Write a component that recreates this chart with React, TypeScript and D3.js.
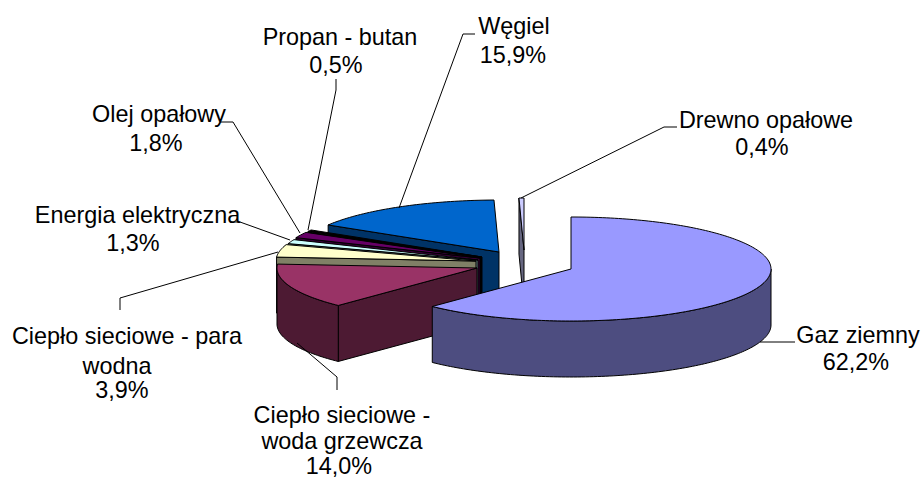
import React from "react";
import * as d3 from "d3";

const categories = ["Gaz ziemny", "Ciepło sieciowe - woda grzewcza", "Ciepło sieciowe - para wodna", "Energia elektryczna", "Olej opałowy", "Propan - butan", "Węgiel", "Drewno opałowe"];
const values = [62.2, 14.0, 3.9, 1.3, 1.8, 0.5, 15.9, 0.4];
const topColors = ["#9999FF", "#993366", "#FFFFCC", "#CCFFFF", "#660066", "#000000", "#0066CC", "#CCCCFF"];
const sideColors = ["#4D4D80", "#4D1A33", "#808066", "#668080", "#330033", "#000000", "#003366", "#666680"];

// exploded centre of each slice
const centreX = [571, 477, 476, 478, 480, 482, 499, 524];
const centreY = [269, 268, 261, 260, 258, 257, 252, 250];
const RX = 200, RY = 52, DEPTH = 56;

// painter's order, back to front
const drawOrder = [7, 6, 5, 4, 3, 2, 1, 0];

const labelLines: [string, number, number][][] = [
  [["Gaz ziemny", 858, 343], ["62,2%", 856, 370]],
  [["Ciepło sieciowe -", 342, 423], ["woda grzewcza", 342, 449], ["14,0%", 339, 474]],
  [["Ciepło sieciowe - para", 127, 344], ["wodna", 117, 374], ["3,9%", 122, 398]],
  [["Energia elektryczna", 137.5, 223], ["1,3%", 133, 251]],
  [["Olej opałowy", 159, 122], ["1,8%", 156, 151]],
  [["Propan - butan", 340, 45], ["0,5%", 336, 73]],
  [["Węgiel", 514, 34], ["15,9%", 513, 63]],
  [["Drewno opałowe", 766, 128], ["0,4%", 762, 155]],
];
const leaders: [number, number][][] = [
  [[760, 342], [795, 342]],
  [[297, 343], [337, 377], [337, 390]],
  [[278, 252], [120, 298], [120, 310]],
  [[290, 240], [240, 222], [230, 222]],
  [[300, 233], [233, 122], [220, 122]],
  [[308, 230], [336, 90], [336, 79]],
  [[399, 208], [463, 34], [475, 34]],
  [[521, 198], [664, 127], [677, 127]],
];

const pie = d3.pie<number>().sort(null).value((d) => d);
const arcs = pie(values);
const line = d3.line();
const FONT = "'Liberation Sans', Arial, sans-serif";

function pt(i: number, a: number, r = 1, dz = 0): [number, number] {
  return [centreX[i] + RX * r * Math.sin(a), centreY[i] - RY * r * Math.cos(a) + dz];
}
function arcPts(i: number, a0: number, a1: number, dz = 0): [number, number][] {
  const n = Math.max(2, Math.ceil(Math.abs(a1 - a0) / 0.02));
  return d3.range(n + 1).map((k) => pt(i, a0 + ((a1 - a0) * k) / n, 1, dz));
}

function Slice({ i }: { i: number }) {
  const { startAngle: a0, endAngle: a1 } = arcs[i];
  const stroke = { stroke: "#000", strokeWidth: 1, strokeLinejoin: "round" as const };
  const faces: [number, number][][] = [];
  const radial = (a: number): [number, number][] => [
    [centreX[i], centreY[i]], pt(i, a), pt(i, a, 1, DEPTH), [centreX[i], centreY[i] + DEPTH],
  ];
  if (Math.sin(a1) > 0.001) faces.push(radial(a1));
  if (Math.sin(a0) < -0.001) faces.push(radial(a0));
  const w0 = Math.max(a0, Math.PI / 2), w1 = Math.min(a1, (3 * Math.PI) / 2);
  const wall = w1 > w0 ? [...arcPts(i, w0, w1), ...arcPts(i, w1, w0, DEPTH)] : null;
  const top = [[centreX[i], centreY[i]] as [number, number], ...arcPts(i, a0, a1)];
  return (
    <g>
      {faces.map((f, k) => (
        <path key={k} d={line(f) + "Z"} fill={sideColors[i]} {...stroke} />
      ))}
      {wall && <path d={line(wall) + "Z"} fill={sideColors[i]} {...stroke} />}
      <path d={line(top) + "Z"} fill={topColors[i]} {...stroke} />
    </g>
  );
}

export default function App() {
  return (
    <svg width={923} height={479} style={{ position: "absolute", left: 0, top: 0, background: "#fff" }}>
      {drawOrder.map((i) => (
        <Slice key={categories[i]} i={i} />
      ))}
      {leaders.map((l, i) => (
        <path key={i} d={line(l) as string} fill="none" stroke="#000" strokeWidth={1} />
      ))}
      {labelLines.map((ls, i) =>
        ls.map(([t, x, y], k) => (
          <text key={i + "-" + k} x={x} y={y} textAnchor="middle" fontFamily={FONT} fontSize={23.4} fill="#000">
            {t}
          </text>
        ))
      )}
    </svg>
  );
}
